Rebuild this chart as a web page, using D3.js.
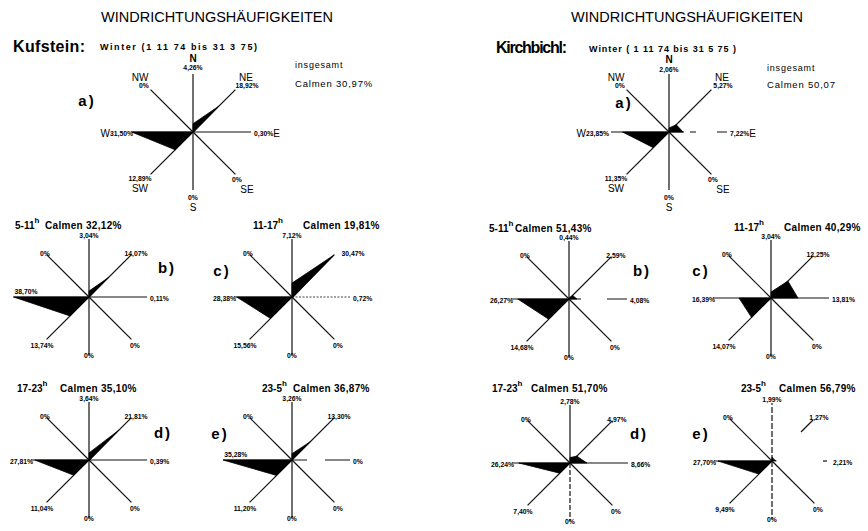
<!DOCTYPE html>
<html><head><meta charset="utf-8">
<script src="https://cdn.jsdelivr.net/npm/d3@7"></script>
<style>body{margin:0;background:#fff}svg{display:block}</style>
</head><body><svg id="c" width="868" height="531"></svg>
<script>
// ---------- DATA ----------
const directions = ["N", "NE", "E", "SE", "S", "SW", "W", "NW"];
const roseIds = ["a", "b", "c", "d", "e"];
const periodLabels = [null, "5-11", "11-17", "17-23", "23-5"];
const stationNames = ["Kufstein:", "Kirchbichl:"];
const stationPeriods = ["Winter (1 11 74 bis 31 3 75)", "Winter ( 1 11 74 bis 31 5 75 )"];
const mainTitle = "WINDRICHTUNGSHÄUFIGKEITEN";
// values per rose (a = insgesamt, b..e = time periods), in order N NE E SE S SW W NW
const kufsteinValues = [
  [4.26, 18.92, 0.30, 0, 0, 12.89, 31.50, 0],
  [3.04, 14.07, 0.11, 0, 0, 13.74, 38.70, 0],
  [7.12, 30.47, 0.72, 0, 0, 15.56, 28.38, 0],
  [3.64, 21.81, 0.39, 0, 0, 11.04, 27.81, 0],
  [3.26, 13.30, 0, 0, 0, 11.20, 35.28, 0]
];
const kufsteinCalmen = [30.97, 32.12, 19.81, 35.10, 36.87];
const kirchbichlValues = [
  [2.06, 5.27, 7.22, 0, 0, 11.35, 23.85, 0],
  [0.44, 2.59, 4.08, 0, 0, 14.68, 26.27, 0],
  [3.04, 12.25, 13.81, 0, 0, 14.07, 16.39, 0],
  [2.78, 4.97, 8.66, 0, 0, 7.40, 26.24, 0],
  [1.99, 1.27, 2.21, 0, 0, 9.49, 27.70, 0]
];
const kirchbichlCalmen = [50.07, 51.43, 40.29, 51.70, 56.79];

// ---------- LAYOUT ----------
const layout = [
  { titleX: 217, nameX: 13, nameY: 46, nameLen: 72, winterX: 100, winterY: 47, winterLen: 157,
    insX: 295, insY: 65, calY: 83, overallPct: true, nY: -74, nvY: -65,
    centers: [[193,132],[89,297],[292,297],[89,460],[292,460]],
    periodPos: [null,[15,45,225],[253,303,225],[17,60,388],[262,293,388]],
    letterPos: [[87,100],[167,267],[222,270],[163,432],[220,433]] },
  { titleX: 687, nameX: 496, nameY: 47, nameLen: 71, winterX: 589, winterY: 49, winterLen: 147,
    insX: 767, insY: 68, calY: 84, overallPct: false, nY: -73, nvY: -63,
    centers: [[669,132],[569,299],[771,298],[570,463],[772,461]],
    periodPos: [null,[489,515,228],[734,784,227],[492,531,388],[741,779,388]],
    letterPos: [[624,102],[642,270],[701,270],[639,433],[701,433]] }
];
const spokeSpecial = [
  {s:1, r:0, dir:"E", dash:"15,6,6,21,20"},
  {s:1, r:1, dir:"E", dash:"12,26,30"},
  {s:1, r:4, dir:"NE", from:41, to:58},
  {s:1, r:4, dir:"E", from:51, to:55},
  {s:1, r:4, dir:"N", dash:"6,2"},
  {s:1, r:4, dir:"S", dash:"6,2"},
  {s:1, r:3, dir:"S", dash:"5,2"},
  {s:0, r:4, dir:"E", dash:"15,18,30"},
  {s:0, r:2, dir:"E", dash:"2,1.5", width:0.8}
];
const labelSpecial = [ {s:0, r:2, dir:"NE", dx:61, dy:-44} ];

const FONT = "'Liberation Sans', Arial, sans-serif";
const svg = d3.select("#c");
const rScale = d3.scaleLinear().domain([0, 40]).range([0, 78]);
const angle = d3.scaleOrdinal().domain(directions).range(directions.map((d,i) => i * Math.PI / 4));
const fmt = v => v === 0 ? "0%" : d3.format(".2f")(v).replace(".", ",") + "%";
const fmtC = v => d3.format(".2f")(v).replace(".", ",");
const pt = (dir, r) => [r * Math.sin(angle(dir)), -r * Math.cos(angle(dir))];

const lblOff = {
  N: [0, -62, "middle"], NE: [47, -44, "middle"], E: [61, 1, "start"], SE: [46, 48, "middle"],
  S: [0, 58, "middle"], SW: [-47, 48, "middle"], W: [-56, 1, "end"], NW: [-44, -44, "middle"]
};

function drawRose(g, values, si, ri) {
  const radial = d3.lineRadial()
    .angle((d, i) => angle(directions[i]))
    .radius(d => rScale(d))
    .curve(d3.curveLinearClosed);
  directions.forEach((dir, i) => {
    const base = (dir.length === 2 ? 60 : 58);
    const len = Math.max(base, rScale(values[i]));
    const sp = spokeSpecial.find(o => o.s === si && o.r === ri && o.dir === dir);
    const from = sp && sp.from !== undefined ? sp.from : 0;
    const to = sp && sp.to !== undefined ? sp.to : len;
    const [x1, y1] = pt(dir, from), [x2, y2] = pt(dir, to);
    g.append("line").attr("x1", x1).attr("y1", y1).attr("x2", x2).attr("y2", y2)
      .attr("stroke", "#111").attr("stroke-width", sp && sp.width ? sp.width : 1.2)
      .attr("stroke-dasharray", sp && sp.dash ? sp.dash : null);
  });
  g.append("path").attr("d", radial(values)).attr("fill", "#000").attr("stroke", "#000")
    .attr("stroke-width", 0.8).attr("stroke-linejoin", "round");
}

function txt(parent, x, y, s, size, opts = {}) {
  return parent.append("text").attr("x", x).attr("y", y).attr("font-family", FONT)
    .attr("font-size", size).attr("font-weight", opts.weight || "bold")
    .attr("text-anchor", opts.anchor || "start").attr("dominant-baseline", "central")
    .attr("fill", "#000").text(s);
}

[kufsteinValues, kirchbichlValues].forEach((stationVals, si) => {
  const L = layout[si];
  const calmen = si === 0 ? kufsteinCalmen : kirchbichlCalmen;
  txt(svg, L.titleX, 17, mainTitle, 14.5, {anchor: "middle", weight: "normal"});
  txt(svg, L.nameX, L.nameY, stationNames[si], 16, {weight: "bold"}).attr("textLength", L.nameLen).attr("lengthAdjust", "spacing");
  txt(svg, L.winterX, L.winterY, stationPeriods[si], 9, {weight: "bold"}).attr("textLength", L.winterLen).attr("lengthAdjust", "spacing");
  txt(svg, L.insX, L.insY, "insgesamt", 9, {weight: "normal"}).attr("letter-spacing", 0.8);
  txt(svg, L.insX, L.calY, "Calmen " + fmtC(calmen[0]) + (L.overallPct ? "%" : ""), 9.5, {weight: "normal"}).attr("letter-spacing", 0.8);

  stationVals.forEach((values, ri) => {
    const [cx, cy] = L.centers[ri];
    const g = svg.append("g").attr("transform", `translate(${cx},${cy})`);
    drawRose(g, values, si, ri);
    const [lx, ly] = L.letterPos[ri];
    txt(svg, lx, ly, roseIds[ri] + ")", 15, {anchor: "middle"}).attr("letter-spacing", 2);
    if (ri === 0) {
      const small = 6.8, big = 10;
      directions.forEach((dir, i) => {
        const v = fmt(values[i]);
        if (dir === "N") { txt(g, 0, L.nvY, v, small, {anchor:"middle"}); txt(g, 0, L.nY, dir, big, {anchor:"middle"}); }
        if (dir === "NE") { txt(g, 53, -55, dir, big, {anchor:"middle", weight:"normal"}); txt(g, 54, -47, v, small, {anchor:"middle"}); }
        if (dir === "NW") { txt(g, -53, -55, dir, big, {anchor:"middle", weight:"normal"}); txt(g, -49, -47, v, small, {anchor:"middle"}); }
        if (dir === "E") { const t = txt(g, 61, 1, "", small, {anchor:"start"}); t.append("tspan").text(v); t.append("tspan").attr("font-size", big).attr("font-weight", "normal").text(dir); }
        if (dir === "W") { const t = txt(g, -60, 1, "", small, {anchor:"end"}); t.append("tspan").attr("font-size", big).attr("font-weight", "normal").text(dir); t.append("tspan").text(v); }
        if (dir === "SE") { txt(g, 44, 47, v, small, {anchor:"middle"}); txt(g, 54, 57, dir, big, {anchor:"middle", weight:"normal"}); }
        if (dir === "SW") { txt(g, -53, 46, v, small, {anchor:"middle"}); txt(g, -53, 56, dir, big, {anchor:"middle", weight:"normal"}); }
        if (dir === "S") { txt(g, 0, 65, v, small, {anchor:"middle"}); txt(g, 0, 75, dir, big, {anchor:"middle", weight:"normal"}); }
      });
    } else {
      directions.forEach((dir, i) => {
        let [dx, dy, an] = lblOff[dir];
        const r = rScale(values[i]);
        if (dir === "W" && r > 58) { dx = -r + 1; dy = -6; an = "start"; }
        const ls = labelSpecial.find(o => o.s === si && o.r === ri && o.dir === dir);
        if (ls) { dx = ls.dx; dy = ls.dy; }
        txt(g, dx, dy, fmt(values[i]), 6.8, {anchor: an});
      });
      const [px, cxx, py] = L.periodPos[ri];
      const pt1 = txt(svg, px, py, "", 10, {});
      pt1.append("tspan").text(periodLabels[ri]);
      pt1.append("tspan").attr("font-size", 8).attr("dy", -5).text("h");
      txt(svg, cxx, py, "Calmen " + fmtC(calmen[ri]) + "%", 10, {}).attr("letter-spacing", 0.3);
    }
  });
});
</script></body></html>
